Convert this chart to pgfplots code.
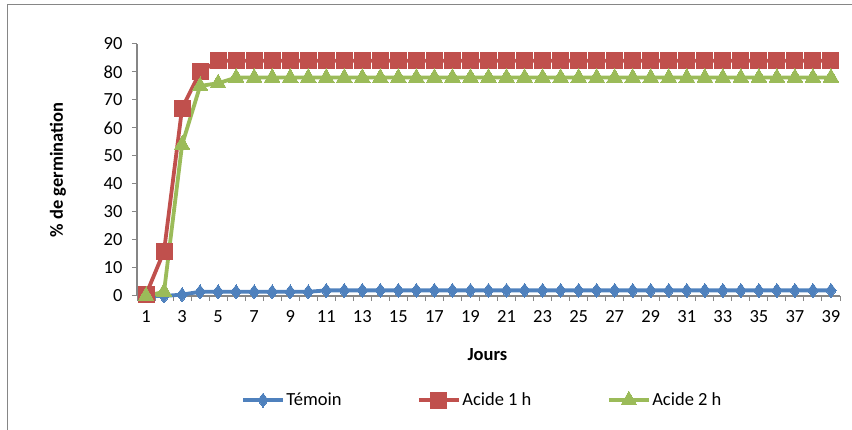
\documentclass[border=0pt]{standalone}
\usepackage{pgfplots}
\pgfplotsset{compat=1.18}
\usepackage{fontspec}
\setmainfont{Carlito}
\definecolor{cblue}{HTML}{4F81BD}
\definecolor{cred}{HTML}{C0504D}
\definecolor{cgreen}{HTML}{9BBB59}
\definecolor{cgray}{HTML}{868686}
\begin{document}
\begin{tikzpicture}[font=\fontsize{18.5}{22}\selectfont]
\useasboundingbox (0pt,0pt) rectangle (852pt,430pt);
\draw[color=cgray, line width=1.5pt] (7.5pt,0pt) -- (7.5pt,425.5pt) -- (852pt,425.5pt);
\begin{axis}[
  at={(137pt,134pt)}, anchor=south west,
  scale only axis, width=703pt, height=252pt,
  xmin=0.5, xmax=39.5, ymin=0, ymax=90,
  axis lines*=left,
  axis line style={color=cgray, line width=1.2pt},
  xtick={1,3,...,39},
  minor xtick={0.5,1.5,...,39.5},
  ytick={0,10,...,90},
  tick align=outside,
  major tick length=5pt, minor tick length=5pt,
  major x tick style={draw=none},
  minor x tick style={draw=cgray, line width=1pt},
  major y tick style={draw=cgray, line width=1pt},
  /pgf/number format/assume math mode=true,
  tick label style={font=\fontsize{18.5}{22}\selectfont},
  xticklabel style={yshift=-6pt},
  yticklabel style={xshift=-6pt},
  xlabel={\textbf{Jours}},
  ylabel={\textbf{\% de germination}},
  label style={font=\fontsize{18.5}{22}\selectfont},
  xlabel style={at={(axis description cs:0.4985,-0.234)}, anchor=center},
  ylabel style={at={(axis description cs:-0.1126,0.5)}, anchor=center},
  clip=false,
  legend columns=3,
  legend style={at={(axis description cs:0.4908,-0.4127)}, anchor=center, draw=none, fill=none,
    font=\fontsize{18.5}{22}\selectfont,
    /tikz/every even column/.append style={column sep=74pt},
    nodes={inner sep=1.5pt}},
  legend image code/.code={\draw[mark repeat=2,mark phase=2] plot coordinates {(0pt,0pt) (20pt,0pt) (40pt,0pt)};},
]
\addplot[color=cblue, line width=3.8pt, mark=diamond*, mark size=7pt, mark options={line width=0pt, fill=cblue}] coordinates {
(1,0) (2,0) (3,0.5) (4,1.5) (5,1.5) (6,1.5) (7,1.5) (8,1.5) (9,1.5) (10,1.5)
(11,2) (12,2) (13,2) (14,2) (15,2) (16,2) (17,2) (18,2) (19,2) (20,2)
(21,2) (22,2) (23,2) (24,2) (25,2) (26,2) (27,2) (28,2) (29,2) (30,2)
(31,2) (32,2) (33,2) (34,2) (35,2) (36,2) (37,2) (38,2) (39,2)};
\addlegendentry{Témoin}
\addplot[color=cred, line width=3.8pt, mark=square*, mark size=8pt, mark options={line width=0pt, fill=cred}] coordinates {
(1,0.5) (2,16) (3,67) (4,80) (5,84) (6,84) (7,84) (8,84) (9,84) (10,84)
(11,84) (12,84) (13,84) (14,84) (15,84) (16,84) (17,84) (18,84) (19,84) (20,84)
(21,84) (22,84) (23,84) (24,84) (25,84) (26,84) (27,84) (28,84) (29,84) (30,84)
(31,84) (32,84) (33,84) (34,84) (35,84) (36,84) (37,84) (38,84) (39,84)};
\addlegendentry{Acide 1 h}
\addplot[color=cgreen, line width=3.8pt, mark=triangle*, mark size=9pt, mark options={line width=0pt, fill=cgreen}] coordinates {
(1,0) (2,1.5) (3,54) (4,75) (5,76) (6,78) (7,78) (8,78) (9,78) (10,78)
(11,78) (12,78) (13,78) (14,78) (15,78) (16,78) (17,78) (18,78) (19,78) (20,78)
(21,78) (22,78) (23,78) (24,78) (25,78) (26,78) (27,78) (28,78) (29,78) (30,78)
(31,78) (32,78) (33,78) (34,78) (35,78) (36,78) (37,78) (38,78) (39,78)};
\addlegendentry{Acide 2 h}
\end{axis}
\end{tikzpicture}
\end{document}
